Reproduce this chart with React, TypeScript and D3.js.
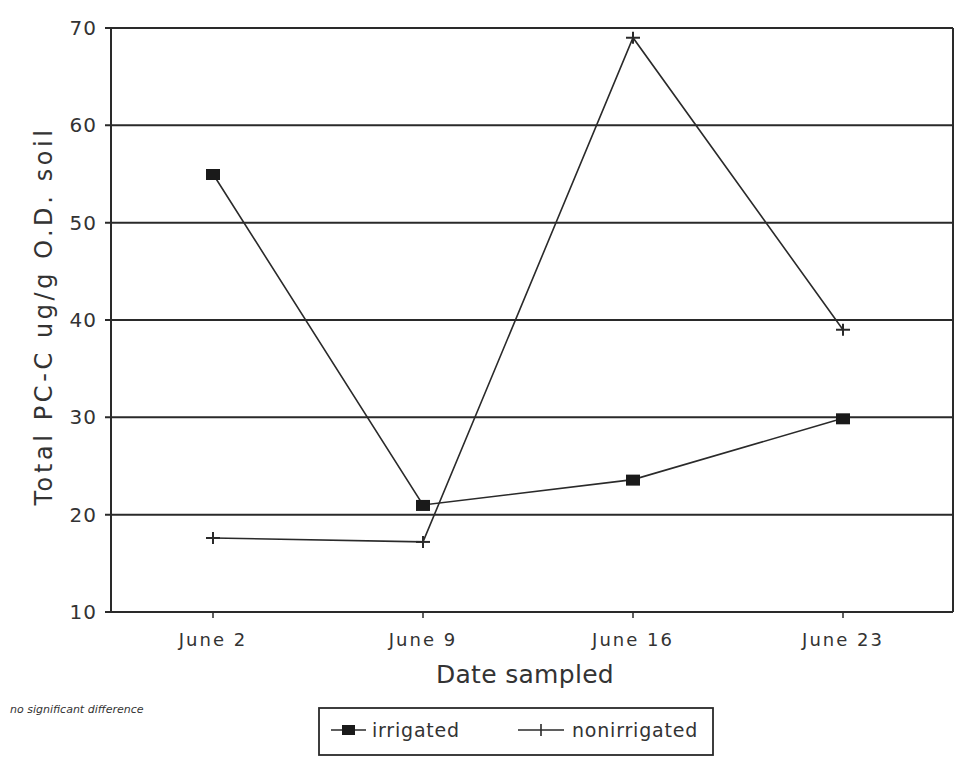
import React from "react";
import * as d3 from "d3";

const dates = ["June 2", "June 9", "June 16", "June 23"];
const irrigated = [55.0, 21.0, 23.6, 29.9];
const nonirrigated = [17.6, 17.2, 69.0, 39.0];
const yTicks = [10, 20, 30, 40, 50, 60, 70];

const W = 956;
const H = 761;
const left = 111;
const right = 953;
const top = 28;
const bottom = 612;
const ink = "#2a2a2a";
const font = "'DejaVu Sans', sans-serif";

export default function App() {
  const x = d3.scalePoint<string>().domain(dates).range([108, 948]).padding(0.5);
  const y = d3.scaleLinear().domain([10, 70]).range([bottom, top]);
  const line = d3
    .line<number>()
    .x((_, i) => x(dates[i]) as number)
    .y((d) => y(d));

  return (
    <svg
      width={W}
      height={H}
      style={{ position: "absolute", left: 0, top: 0, background: "#fff" }}
    >
      {/* gridlines */}
      {yTicks.map((t) => (
        <g key={t}>
          <line x1={left - 6} x2={right} y1={y(t)} y2={y(t)} stroke={ink} strokeWidth={2} />
          <text
            x={left - 14}
            y={y(t) + 7}
            textAnchor="end"
            fontFamily={font}
            fontSize={20}
            letterSpacing={1}
            fill="#333"
          >
            {t}
          </text>
        </g>
      ))}
      {/* frame */}
      <line x1={left} x2={left} y1={top} y2={bottom} stroke={ink} strokeWidth={2} />
      <line x1={right} x2={right} y1={top} y2={bottom} stroke={ink} strokeWidth={2} />
      {/* x ticks */}
      {dates.map((d) => (
        <g key={d}>
          <line x1={x(d)} x2={x(d)} y1={bottom} y2={bottom + 6} stroke={ink} strokeWidth={1.5} />
          <text
            x={x(d)}
            y={bottom + 34}
            textAnchor="middle"
            fontFamily={font}
            fontSize={18}
            letterSpacing={2}
            fill="#333"
          >
            {d}
          </text>
        </g>
      ))}
      {/* axis titles */}
      <text
        x={525}
        y={683}
        textAnchor="middle"
        fontFamily={font}
        fontSize={25}
        letterSpacing={0.3}
        fill="#333"
      >
        Date sampled
      </text>
      <text
        transform={`translate(52, 316) rotate(-90)`}
        textAnchor="middle"
        fontFamily={font}
        fontSize={24}
        letterSpacing={3.6}
        fill="#333"
      >
        Total PC-C ug/g O.D. soil
      </text>
      <text x={10} y={713} fontFamily={font} fontSize={11} fontStyle="italic" fill="#333">
        no significant difference
      </text>

      {/* series */}
      <path d={line(irrigated) || ""} fill="none" stroke={ink} strokeWidth={1.6} />
      <path d={line(nonirrigated) || ""} fill="none" stroke={ink} strokeWidth={1.6} />
      {irrigated.map((v, i) => (
        <rect
          key={"i" + i}
          x={(x(dates[i]) as number) - 7}
          y={y(v) - 5}
          width={14}
          height={11}
          fill="#1a1a1a"
        />
      ))}
      {nonirrigated.map((v, i) => {
        const cx = x(dates[i]) as number;
        const cy = y(v);
        return (
          <g key={"n" + i} stroke={ink} strokeWidth={2}>
            <line x1={cx - 7} x2={cx + 7} y1={cy} y2={cy} />
            <line x1={cx} x2={cx} y1={cy - 6} y2={cy + 6} />
          </g>
        );
      })}

      {/* legend */}
      <rect x={319} y={708} width={394} height={47} fill="none" stroke={ink} strokeWidth={1.8} />
      <line x1={331} x2={366} y1={730} y2={730} stroke={ink} strokeWidth={1.6} />
      <rect x={342} y={725} width={13} height={10} fill="#1a1a1a" />
      <text x={372} y={737} fontFamily={font} fontSize={19} letterSpacing={0.8} fill="#333">
        irrigated
      </text>
      <line x1={518} x2={564} y1={730} y2={730} stroke={ink} strokeWidth={1.6} />
      <line x1={541} x2={541} y1={724} y2={736} stroke={ink} strokeWidth={1.6} />
      <text x={572} y={737} fontFamily={font} fontSize={19} letterSpacing={0.8} fill="#333">
        nonirrigated
      </text>
    </svg>
  );
}
